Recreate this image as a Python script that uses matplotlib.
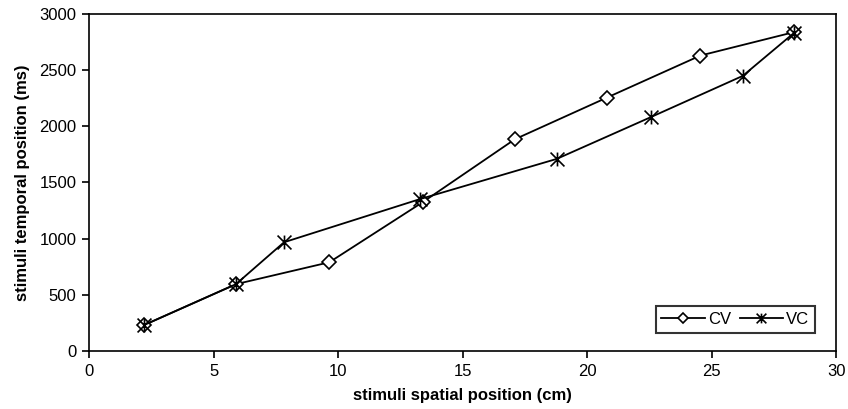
import matplotlib
matplotlib.use("Agg")
import matplotlib.pyplot as plt
from matplotlib.path import Path

# spatial position (cm) and temporal position (ms) for each condition
cv_x = [2.2, 5.9, 9.65, 13.4, 17.1, 20.8, 24.55, 28.3]
cv_y = [230, 595, 790, 1325, 1885, 2256, 2630, 2838]
vc_x = [2.2, 5.9, 7.83, 13.27, 18.78, 22.55, 26.25, 28.3]
vc_y = [230, 595, 968, 1351, 1710, 2081, 2449, 2830]

plt.rcParams['font.family'] = ['Liberation Sans', 'DejaVu Sans']

# excel style star: an X with a vertical bar through it
star = Path([(0, -1), (0, 1), (-1, -1), (1, 1), (-1, 1), (1, -1)],
            [Path.MOVETO, Path.LINETO, Path.MOVETO, Path.LINETO, Path.MOVETO, Path.LINETO])

fig = plt.figure(figsize=(8.48, 4.09), dpi=100)
ax = fig.add_axes([0.105, 0.1418, 0.881, 0.824])

ax.plot(cv_x, cv_y, color='black', lw=1.3, marker='D', markersize=7,
        markerfacecolor='white', markeredgecolor='black', markeredgewidth=1.2, label='CV')
ax.plot(vc_x, vc_y, color='black', lw=1.3, marker=star, markersize=10,
        markeredgecolor='black', markeredgewidth=1.2, label='VC')

ax.set_xlim(0, 30)
ax.set_ylim(0, 3000)
ax.set_xticks(range(0, 31, 5))
ax.set_yticks(range(0, 3001, 500))
ax.tick_params(direction='out', length=5, width=1.2, labelsize=12, pad=4)
for s in ax.spines.values():
    s.set_linewidth(1.2)

ax.set_xlabel("stimuli spatial position (cm)", fontsize=12, fontweight='bold', labelpad=7)
ax.set_ylabel("stimuli temporal position (ms)", fontsize=12, fontweight='bold', labelpad=7)

leg = ax.legend(loc='lower right', ncol=2, fontsize=12, frameon=True, fancybox=False,
                edgecolor='black', borderpad=0.35, handlelength=2.6, columnspacing=0.5,
                handletextpad=0.2, markerscale=0.7, borderaxespad=0,
                bbox_to_anchor=(0.972, 0.053))
leg.get_frame().set_linewidth(1.5)

fig.savefig("out.png", dpi=100)
